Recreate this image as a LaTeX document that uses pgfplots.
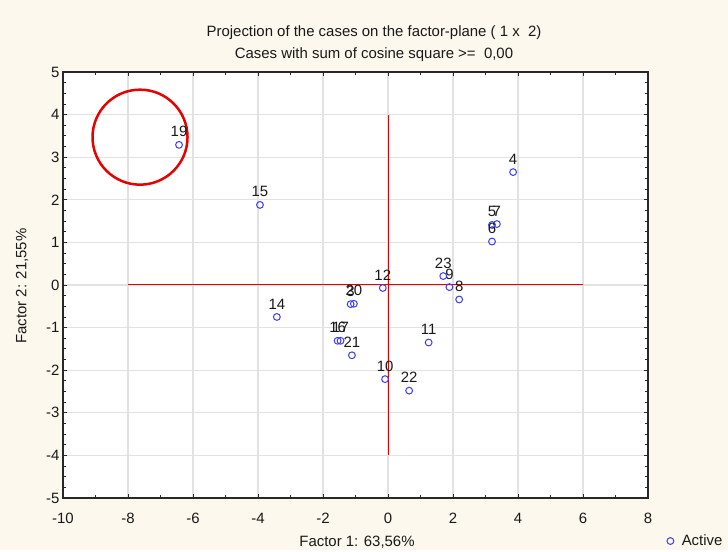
\documentclass[border=0pt]{standalone}
\usepackage{fontspec}
\setmainfont{Liberation Sans}
\usepackage{pgfplots}
\pgfplotsset{compat=1.18}
\usepackage{pgfplotstable}
\definecolor{bgc}{RGB}{252,248,238}
\definecolor{gridc}{RGB}{226,226,226}
\definecolor{markc}{RGB}{60,60,255}
\definecolor{redc}{RGB}{230,0,0}
\definecolor{framec}{RGB}{40,40,40}
\definecolor{txtc}{RGB}{25,25,25}
\newcommand{\fs}{\fontsize{15}{18}\selectfont}

\pgfplotstableread{
x y lab
-6.43 3.29 19
-3.94 1.88 15
-3.42 -0.75 14
3.85 2.65 4
3.20 1.41 5
3.35 1.43 7
3.20 1.02 6
1.70 0.21 23
1.89 -0.05 9
2.19 -0.34 8
-0.16 -0.07 12
-1.15 -0.45 3
-1.05 -0.44 20
-1.55 -1.31 16
-1.46 -1.31 17
-1.11 -1.65 21
1.25 -1.35 11
-0.09 -2.21 10
0.65 -2.48 22
}\casesdata

\begin{document}
\begin{tikzpicture}
\fill[bgc] (0,0) rectangle (728bp,550bp);
\begin{axis}[
 at={(63bp,52bp)}, anchor=south west,
 scale only axis, width=585bp, height=426bp,
 xmin=-10, xmax=8, ymin=-5, ymax=5,
 xtick={-10,-8,...,8}, ytick={-5,-4,...,5},
 minor x tick num=1, minor y tick num=3,
 grid=major, major grid style={gridc, line width=1.1bp},
 axis line style={framec, line width=1.2bp},
 tick style={framec, line width=0.8bp},
 major tick length=4bp, minor tick length=3bp,
 tick align=inside,
 axis background/.style={fill=white},
 tick label style={font=\fs, text=txtc},
 /pgf/number format/assume math mode=true,
 xticklabel style={yshift=-12bp},
 legend style={at={(1.027,-0.101)}, anchor=west, draw=none, fill=none, font=\fs, text=txtc,
   column sep=6bp},
 legend cell align=left,
]
\addplot[redc, line width=1bp, forget plot] coordinates {(-8,0) (6,0)};
\addplot[redc, line width=1bp, forget plot] coordinates {(0,-4) (0,4)};
\addplot[only marks, mark=o, mark size=3.4bp, mark options={markc, line width=1bp},
  nodes near coords, point meta=explicit symbolic,
  every node near coord/.append style={text=txtc, anchor=center, yshift=13bp, font=\fontsize{15}{18}\selectfont}]
  table[x=x, y=y, meta=lab] {\casesdata};
\addlegendentry{Active}
\draw[redc, line width=2.5bp] (axis cs:-7.63,3.47) circle[radius=47.5bp];
\end{axis}
\node[anchor=base, font=\fs, text=txtc] at (374bp,513.8bp) {Projection of the cases on the factor-plane ( 1 x\ \ 2)};
\node[anchor=base, font=\fs, text=txtc] at (374bp,491.2bp) {Cases with sum of cosine square >=\ \ 0,00};
\node[rotate=90, font=\fs, text=txtc] at (22bp,264bp) {Factor 2: 21,55\%};
\node[anchor=base, font=\fs, text=txtc] at (357bp,3.5bp) {Factor 1: 63,56\%};
\end{tikzpicture}
\end{document}
